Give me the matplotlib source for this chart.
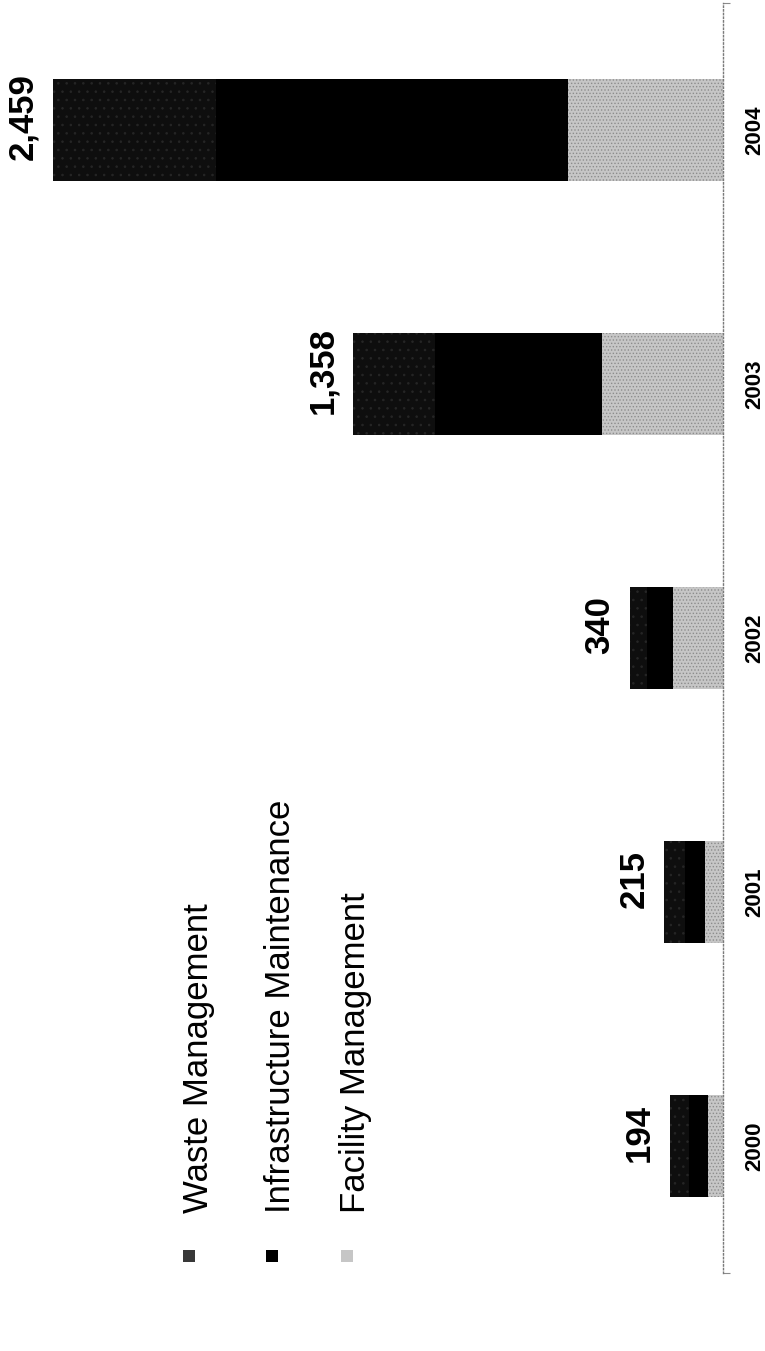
import numpy as np
import matplotlib
matplotlib.use('Agg')
import matplotlib.pyplot as plt
from matplotlib.patches import Rectangle

# revenue by segment, stacked from the baseline outwards
years = ['2000', '2001', '2002', '2003', '2004']
facility = [55, 66, 183, 443, 567]
infrastructure = [69, 74, 97, 615, 1292]
waste = [70, 75, 60, 300, 600]
series_names = ['Waste Management', 'Infrastructure Maintenance', 'Facility Management']

c_waste = '#0e0e0e'
c_infra = '#000000'
c_fac = '#c6c6c6'

plt.rcParams['hatch.linewidth'] = 0.6

W, H = 765, 1351
fig = plt.figure(figsize=(W / 100, H / 100), dpi=100)
ax = fig.add_axes([0, 78 / H, 723 / W, 1270 / H])

y = np.arange(len(years))
fac = np.array(facility)
inf = np.array(infrastructure)
wst = np.array(waste)
totals = fac + inf + wst

bh = 0.405
ax.barh(y, fac, height=bh, color=c_fac, hatch='.....', edgecolor='#8c8c8c', linewidth=0)
ax.barh(y, inf, left=fac, height=bh, color=c_infra, linewidth=0)
ax.barh(y, wst, left=fac + inf, height=bh, color=c_waste, hatch='..', edgecolor='#262626', linewidth=0)

ax.set_xlim(723 / 0.2725, 0)
ax.set_ylim(-0.5, len(years) - 0.5)

for yi, t in zip(y, totals):
    ax.annotate(f'{t:,}', xy=(t, yi), xytext=(-14, 13), textcoords='offset pixels',
                rotation=90, ha='right', va='center', fontsize=25, fontweight='bold',
                family=['Liberation Sans', 'DejaVu Sans'])

for s in ['top', 'left', 'bottom']:
    ax.spines[s].set_visible(False)
ax.spines['right'].set_linestyle(':')
ax.spines['right'].set_color('#7a7a7a')
ax.spines['right'].set_linewidth(1.0)

ax.set_xticks([])
ax.yaxis.tick_right()
ax.set_yticks(y)
ax.set_yticklabels(years, rotation=90, va='center', fontsize=16, fontweight='bold',
                   family=['Liberation Sans Narrow', 'Liberation Sans'])
ax.tick_params(axis='y', which='major', length=0, pad=15)
ax.set_yticks([-0.5, len(years) - 0.5], minor=True)
ax.tick_params(axis='y', which='minor', length=5, width=0.8, color='#8a8a8a')

# legend, written vertically along the left side
leg_x = [189, 272, 347]
leg_colors = ['#383838', c_infra, c_fac]
for lx, name, col in zip(leg_x, series_names, leg_colors):
    fig.add_artist(Rectangle(((lx - 6) / W, 1 - 1262 / H), 12 / W, 12 / H,
                             transform=fig.transFigure, facecolor=col, edgecolor='none'))
    fig.text((lx + 9) / W, 1 - 1213 / H, name, rotation=90, ha='center', va='bottom',
             fontsize=25, family=['Liberation Sans', 'DejaVu Sans'])

fig.savefig('out.png', dpi=100, facecolor='white')
